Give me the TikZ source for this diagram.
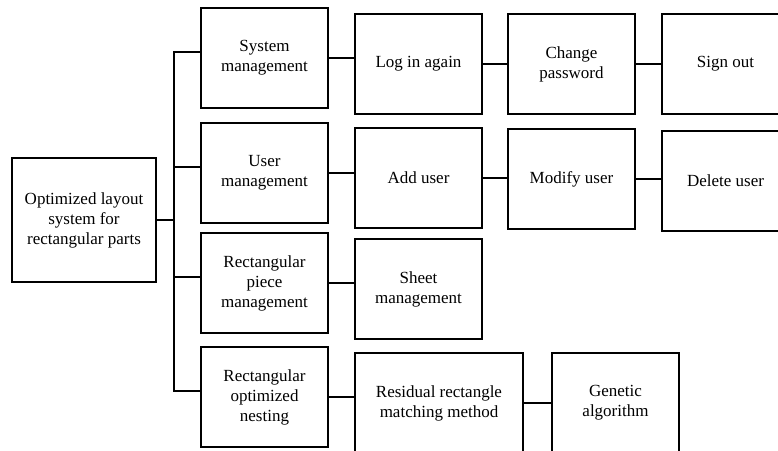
\documentclass[tikz,border=0pt]{standalone}
\usepackage{fontspec}
\setmainfont{Liberation Serif}

\begin{document}
\begin{tikzpicture}[x=1pt, y=-1pt, line width=1.1pt,
    every node/.style={draw, align=center, inner sep=0pt,
      minimum width=127pt, minimum height=100pt,
      font=\fontsize{17}{20}\selectfont}]
  \clip (0,0) rectangle (778,450);
  \node[minimum width=144pt, minimum height=124pt] (n1) at (84,220)
    {Optimized layout\\system for\\rectangular parts};
  \node (n2) at (264.5,58) {System\\management};
  \node (n3) at (264.5,173) {User\\management};
  \node (n4) at (264.5,283) {Rectangular\\piece\\management};
  \node (n5) at (264.5,397) {Rectangular\\optimized\\nesting};
  \node (n6) at (418.5,64) {Log in again};
  \node (n7) at (571.5,64) {Change\\password};
  \node (n8) at (725.5,64) {Sign out};
  \node (n9) at (418.5,178) {Add user};
  \node (n10) at (571.5,179) {Modify user};
  \node (n11) at (725.5,181) {Delete user};
  \node (n12) at (418.5,289) {Sheet\\management};
  \node[minimum width=168pt] (n13) at (439,403) {Residual rectangle\\matching method};
  \node (n14) at (615.5,403) {Genetic\\algorithm};
  \coordinate (t) at (174,220);
  \draw (n1.east) -- (t);
  \draw ([yshift=6pt]n2.west) -| (t) |- ([yshift=6pt]n5.west);
  \foreach \b in {n3,n4}
    \draw ([yshift=6pt]\b.west) -- ([yshift=6pt]\b.west -| t);
  \foreach \a/\b in {n2/n6, n6/n7, n7/n8, n3/n9, n9/n10, n10/n11,
                     n4/n12, n5/n13, n13/n14}
    \draw (\a.east) -- (\a.east -| \b.west);
\end{tikzpicture}
\end{document}
